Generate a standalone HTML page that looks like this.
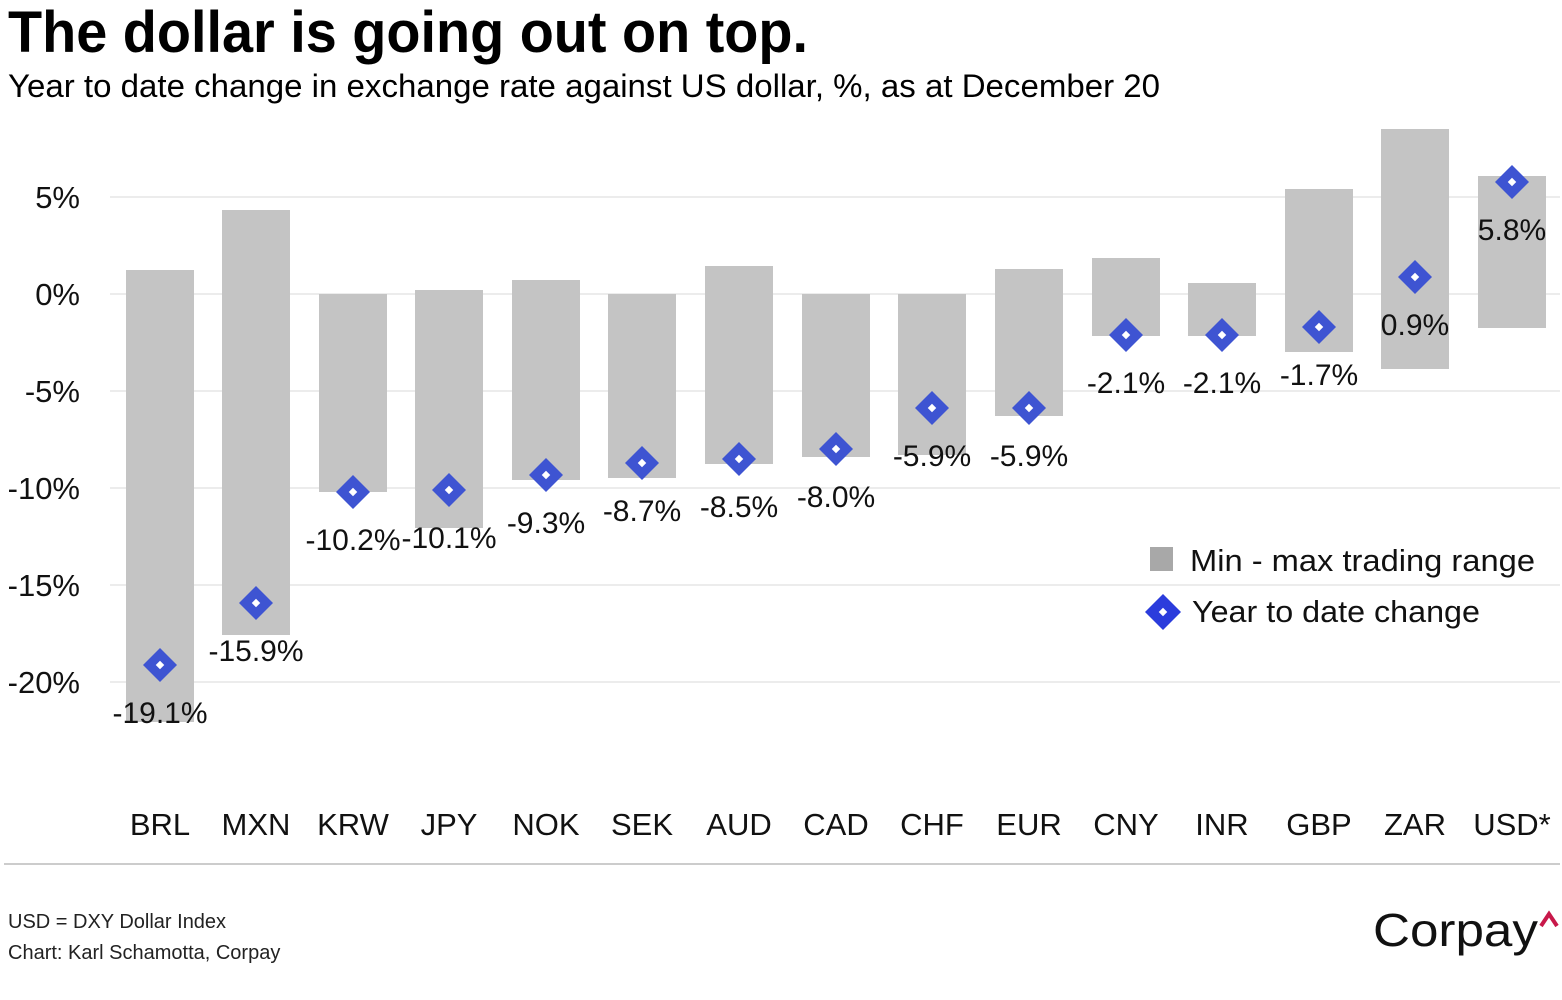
<!DOCTYPE html>
<html><head><meta charset="utf-8"><style>body{margin:0;background:#fff}svg{display:block}text{font-family:"Liberation Sans",sans-serif}</style></head>
<body>
<svg width="1562" height="1000" viewBox="0 0 1562 1000" xmlns="http://www.w3.org/2000/svg">
<text x="8" y="52" font-size="58" font-weight="bold" textLength="800" lengthAdjust="spacingAndGlyphs">The dollar is going out on top.</text>
<text x="8" y="97" font-size="32" textLength="1152" lengthAdjust="spacingAndGlyphs">Year to date change in exchange rate against US dollar, %, as at December 20</text>
<g stroke="#e6e6e6" stroke-width="1.5">
<line x1="110" y1="197" x2="1560" y2="197"/><line x1="110" y1="294" x2="1560" y2="294"/><line x1="110" y1="391" x2="1560" y2="391"/><line x1="110" y1="488" x2="1560" y2="488"/><line x1="110" y1="585" x2="1560" y2="585"/><line x1="110" y1="682" x2="1560" y2="682"/>
</g>
<g font-size="31" text-anchor="end" fill="#111">
<text x="80" y="208">5%</text><text x="80" y="305">0%</text><text x="80" y="402">-5%</text><text x="80" y="499">-10%</text><text x="80" y="596">-15%</text><text x="80" y="693">-20%</text>
</g>
<g fill="#c4c4c4">
<rect x="126" y="270" width="68" height="452"/>
<rect x="222" y="210" width="68" height="425"/>
<rect x="319" y="294" width="68" height="198"/>
<rect x="415" y="290" width="68" height="238"/>
<rect x="512" y="280" width="68" height="200"/>
<rect x="608" y="294" width="68" height="184"/>
<rect x="705" y="266" width="68" height="198"/>
<rect x="802" y="294" width="68" height="163"/>
<rect x="898" y="294" width="68" height="161"/>
<rect x="995" y="269" width="68" height="147"/>
<rect x="1092" y="258" width="68" height="78"/>
<rect x="1188" y="283" width="68" height="53"/>
<rect x="1285" y="189" width="68" height="163"/>
<rect x="1381" y="129" width="68" height="240"/>
<rect x="1478" y="176" width="68" height="152"/>
</g>
<g fill="#3e54d2">
<path d="M160 648l17 17-17 17-17-17z"/>
<path d="M256 586l17 17-17 17-17-17z"/>
<path d="M353 475l17 17-17 17-17-17z"/>
<path d="M449 473l17 17-17 17-17-17z"/>
<path d="M546 458l17 17-17 17-17-17z"/>
<path d="M642 446l17 17-17 17-17-17z"/>
<path d="M739 442l17 17-17 17-17-17z"/>
<path d="M836 432l17 17-17 17-17-17z"/>
<path d="M932 391l17 17-17 17-17-17z"/>
<path d="M1029 391l17 17-17 17-17-17z"/>
<path d="M1126 318l17 17-17 17-17-17z"/>
<path d="M1222 318l17 17-17 17-17-17z"/>
<path d="M1319 310l17 17-17 17-17-17z"/>
<path d="M1415 260l17 17-17 17-17-17z"/>
<path d="M1512 165l17 17-17 17-17-17z"/>
</g>
<g fill="#fff">
<rect x="157" y="662" width="6" height="6" transform="rotate(45 160 665)"/>
<rect x="253" y="600" width="6" height="6" transform="rotate(45 256 603)"/>
<rect x="350" y="489" width="6" height="6" transform="rotate(45 353 492)"/>
<rect x="446" y="487" width="6" height="6" transform="rotate(45 449 490)"/>
<rect x="543" y="472" width="6" height="6" transform="rotate(45 546 475)"/>
<rect x="639" y="460" width="6" height="6" transform="rotate(45 642 463)"/>
<rect x="736" y="456" width="6" height="6" transform="rotate(45 739 459)"/>
<rect x="833" y="446" width="6" height="6" transform="rotate(45 836 449)"/>
<rect x="929" y="405" width="6" height="6" transform="rotate(45 932 408)"/>
<rect x="1026" y="405" width="6" height="6" transform="rotate(45 1029 408)"/>
<rect x="1123" y="332" width="6" height="6" transform="rotate(45 1126 335)"/>
<rect x="1219" y="332" width="6" height="6" transform="rotate(45 1222 335)"/>
<rect x="1316" y="324" width="6" height="6" transform="rotate(45 1319 327)"/>
<rect x="1412" y="274" width="6" height="6" transform="rotate(45 1415 277)"/>
<rect x="1509" y="179" width="6" height="6" transform="rotate(45 1512 182)"/>
</g>
<g font-size="30" text-anchor="middle" fill="#111">
<text x="160" y="723">-19.1%</text>
<text x="256" y="661">-15.9%</text>
<text x="353" y="550">-10.2%</text>
<text x="449" y="548">-10.1%</text>
<text x="546" y="533">-9.3%</text>
<text x="642" y="521">-8.7%</text>
<text x="739" y="517">-8.5%</text>
<text x="836" y="507">-8.0%</text>
<text x="932" y="466">-5.9%</text>
<text x="1029" y="466">-5.9%</text>
<text x="1126" y="393">-2.1%</text>
<text x="1222" y="393">-2.1%</text>
<text x="1319" y="385">-1.7%</text>
<text x="1415" y="335">0.9%</text>
<text x="1512" y="240">5.8%</text>
</g>
<g font-size="31" text-anchor="middle" fill="#111">
<text x="160" y="835">BRL</text><text x="256" y="835">MXN</text><text x="353" y="835">KRW</text><text x="449" y="835">JPY</text><text x="546" y="835">NOK</text><text x="642" y="835">SEK</text><text x="739" y="835">AUD</text><text x="836" y="835">CAD</text><text x="932" y="835">CHF</text><text x="1029" y="835">EUR</text><text x="1126" y="835">CNY</text><text x="1222" y="835">INR</text><text x="1319" y="835">GBP</text><text x="1415" y="835">ZAR</text><text x="1512" y="835">USD*</text>
</g>
<rect x="1150" y="547" width="23" height="24" fill="#a8a8a8"/>
<text x="1190" y="571" font-size="31" fill="#111" textLength="345" lengthAdjust="spacingAndGlyphs">Min - max trading range</text>
<path d="M1163 594l18 18-18 18-18-18z" fill="#2b3cdc"/>
<rect x="1160" y="609" width="6" height="6" fill="#fff" transform="rotate(45 1163 612)"/>
<text x="1192" y="622" font-size="31" fill="#111" textLength="288" lengthAdjust="spacingAndGlyphs">Year to date change</text>
<line x1="4" y1="864" x2="1560" y2="864" stroke="#bbb" stroke-width="1.5"/>
<text x="8" y="928" font-size="20" fill="#222">USD = DXY Dollar Index</text>
<text x="8" y="959" font-size="20" fill="#222">Chart: Karl Schamotta, Corpay</text>
<text x="1373" y="946" font-size="46" fill="#111" textLength="165" lengthAdjust="spacingAndGlyphs">Corpay</text>
<path d="M1541 926l8-12 8 12" fill="none" stroke="#c8184a" stroke-width="4"/>
</svg>
</body></html>
